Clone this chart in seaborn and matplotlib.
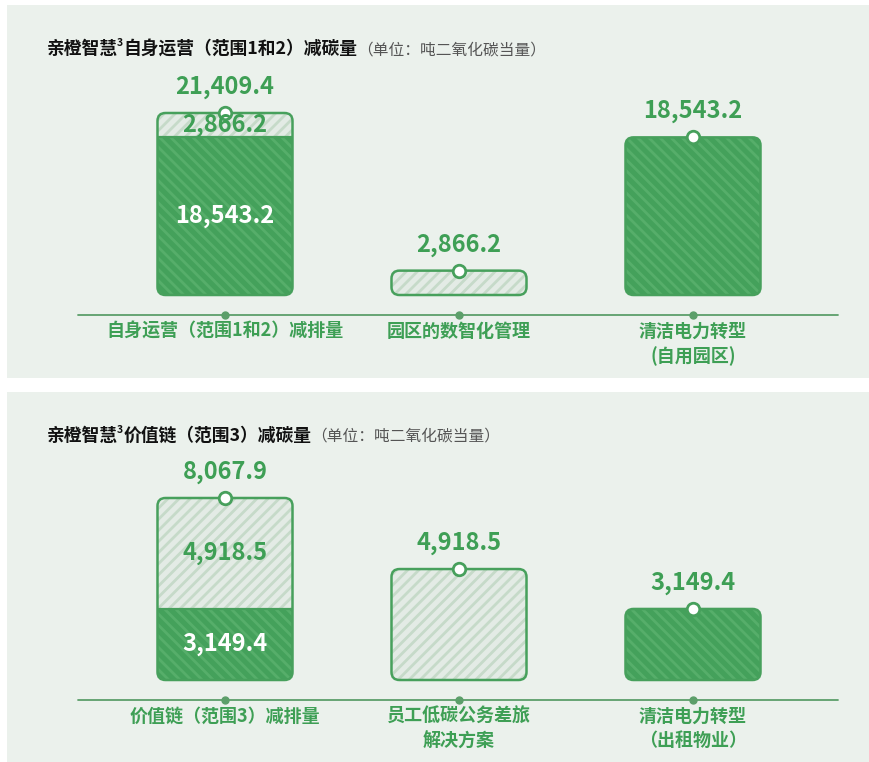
import matplotlib
matplotlib.use("Agg")
import matplotlib.pyplot as plt
import seaborn as sns
import pandas as pd
from matplotlib.patches import FancyBboxPatch, Rectangle

# ---- data (吨二氧化碳当量) ----
title_lead = "亲橙智慧"
title_main_1 = "自身运营（范围1和2）减碳量"
title_main_2 = "价值链（范围3）减碳量"
unit_text = "（单位：吨二氧化碳当量）"

cats_1 = ["自身运营（范围1和2）减排量", "园区的数智化管理", "清洁电力转型\n(自用园区)"]
solid_1 = [18543.2, 0.0, 18543.2]     # dark green part
hatched_1 = [2866.2, 2866.2, 0.0]     # light hatched part

cats_2 = ["价值链（范围3）减排量", "员工低碳公务差旅\n解决方案", "清洁电力转型\n（出租物业）"]
solid_2 = [3149.4, 0.0, 3149.4]
hatched_2 = [4918.5, 4918.5, 0.0]

# ---- style ----
W, H = 870, 762
BG = "#ebf1ec"
DARK = "#44a15b"
DARK_STRIPE = "#56ae6a"
LIGHT = "#e3ebe5"
LIGHT_STRIPE = "#c6dac9"
EDGE = "#47a05c"
GREEN_TXT = "#3e9f55"
LINE = "#5c9f6a"

sns.set_theme(style="white")
plt.rcParams["font.family"] = ["Noto Sans CJK SC", "DejaVu Sans"]
plt.rcParams["hatch.linewidth"] = 2.0

fig = plt.figure(figsize=(W / 100, H / 100), dpi=100)
fig.patch.set_facecolor("white")
renderer = fig.canvas.get_renderer()


def px_x(x):
    return x / W


def px_y(y):
    # y measured from top of figure
    return 1 - y / H


def draw_title(top_px, main_text):
    x = 47
    y = top_px + 49
    parts = [
        (title_lead, 12.8, "bold", "#111111", 0, -1),
        ("3", 7.5, "bold", "#111111", 8, 0),
        (main_text, 12.8, "bold", "#111111", 0, 0),
        (unit_text, 11.3, "normal", "#555555", 0, 0),
    ]
    for txt, size, weight, color, dy, gap in parts:
        t = fig.text(px_x(x), px_y(y - dy), txt, fontsize=size, fontweight=weight,
                     color=color, ha="left", va="baseline")
        bb = t.get_window_extent(renderer)
        x = bb.x1 + gap


def draw_panel(top_px, bottom_px, base_px, cats, solid, hatched, title_main):
    fig.add_artist(Rectangle((px_x(7), px_y(bottom_px)), (W - 7) / W,
                             (bottom_px - top_px) / H, transform=fig.transFigure,
                             facecolor=BG, edgecolor="none", zorder=-5))
    draw_title(top_px, title_main)

    totals = [s + h for s, h in zip(solid, hatched)]
    bar_px = 182
    k = max(totals) / bar_px          # data units per pixel (y)
    ax_top = top_px + 58
    ax_h = base_px - ax_top
    ax = fig.add_axes([px_x(78), px_y(base_px), 760 / W, ax_h / H])
    ax.set_facecolor("none")

    df = pd.DataFrame({"cat": cats, "total": totals})
    sns.barplot(data=df, x="cat", y="total", ax=ax, width=0.577, color=DARK)

    xpp = 1 / 234.0                   # data units per pixel (x)
    ax.set_xlim(-(225 - 78) * xpp, 2 + (838 - 693) * xpp)
    ax.set_ylim(-20 * k, (ax_h - 20) * k)
    ax.axis("off")

    aspect = k / xpp
    rad = 8 * xpp
    for i, p in enumerate(list(ax.patches)):
        x0, w = p.get_x(), p.get_width()
        xc = x0 + w / 2
        p.set_visible(False)
        tot, s, h = totals[i], solid[i], hatched[i]
        box = dict(boxstyle=f"round,pad=0,rounding_size={rad}", mutation_aspect=aspect)

        light = FancyBboxPatch((x0, 0), w, tot, facecolor=LIGHT, edgecolor=LIGHT_STRIPE,
                               hatch="///", linewidth=0, zorder=2, **box)
        ax.add_patch(light)
        if s > 0:
            dark = Rectangle((x0, 0), w, s, facecolor=DARK, edgecolor=DARK_STRIPE,
                             hatch="\\\\\\", linewidth=0, zorder=3)
            ax.add_patch(dark)
            dark.set_clip_path(light)
            if h > 0:
                ax.plot([x0, x0 + w], [s, s], color=EDGE, lw=1.6, zorder=4,
                        solid_capstyle="butt")
        outline = FancyBboxPatch((x0, 0), w, tot, facecolor="none", edgecolor=EDGE,
                                 linewidth=1.8, zorder=4, **box)
        ax.add_patch(outline)

        # top marker and total label
        ax.plot(xc, tot, "o", ms=9, mfc="white", mec=EDGE, mew=2, zorder=6, clip_on=False)
        ax.annotate(f"{tot:,.1f}", (xc, tot), xytext=(0, 26), textcoords="offset pixels",
                    ha="center", va="center", fontsize=17, fontweight="bold",
                    color=GREEN_TXT, zorder=7)
        # inner labels for stacked bar
        if s > 0 and h > 0:
            ax.text(xc, s + h / 2, f"{h:,.1f}", ha="center", va="center", fontsize=17,
                    fontweight="bold", color=GREEN_TXT, zorder=7)
            ax.text(xc, s / 2, f"{s:,.1f}", ha="center", va="center", fontsize=17,
                    fontweight="bold", color="white", zorder=7)

        # category label
        ax.annotate(cats[i], (xc, -20 * k), xytext=(0, -7), textcoords="offset pixels",
                    ha="center", va="top", fontsize=13, fontweight="bold",
                    color=GREEN_TXT, linespacing=1.35, annotation_clip=False)

    ax.axhline(-20 * k, color=LINE, lw=1.3, clip_on=False, zorder=1)
    ax.plot(range(len(cats)), [-20 * k] * len(cats), "o", ms=5, color=LINE,
            clip_on=False, zorder=2)


draw_panel(5, 378, 315, cats_1, solid_1, hatched_1, title_main_1)
draw_panel(392, 762, 700, cats_2, solid_2, hatched_2, title_main_2)

fig.savefig("out.png", dpi=100, facecolor="white")
